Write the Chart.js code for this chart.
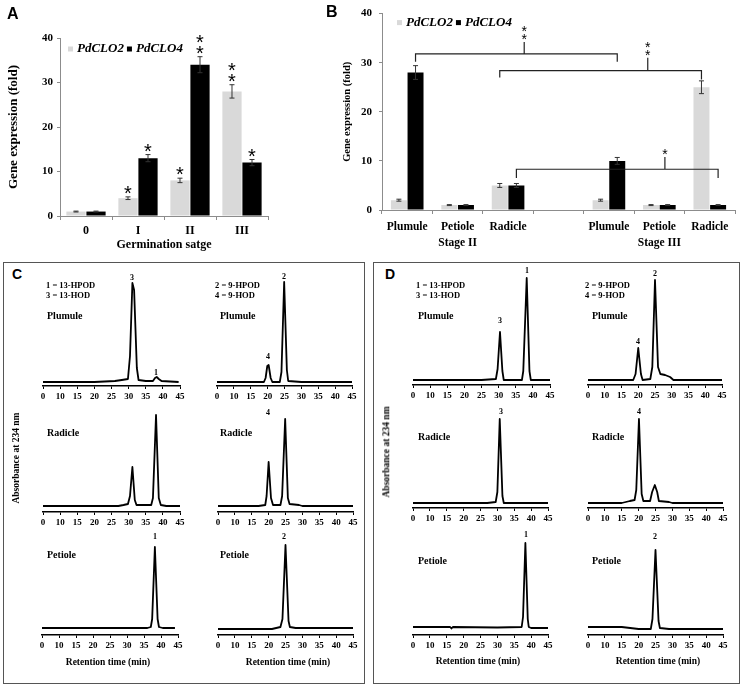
<!DOCTYPE html>
<html>
<head>
<meta charset="utf-8">
<script src="https://cdn.jsdelivr.net/npm/chart.js@4.4.0/dist/chart.umd.min.js"></script>
<style>
  body { margin: 0; background: #fff; width: 743px; height: 688px; position: relative; overflow: hidden; }
  canvas { position: absolute; }
  .t { position: absolute; font-family: "Liberation Serif", "Times New Roman", serif; font-weight: bold; white-space: nowrap; line-height: 1; color: #000; }
  .letter { font-family: "Liberation Sans", Arial, sans-serif; }
  .box { position: absolute; border: 1.5px solid #555; box-sizing: border-box; }
</style>
</head>
<body>
<div class="box" style="left:3px;top:262px;width:362px;height:422px"></div>
<div class="box" style="left:373px;top:262px;width:367px;height:422px"></div>
<canvas id="chartA" width="275" height="255" style="left:0;top:0"></canvas>
<canvas id="chartB" width="413" height="255" style="left:330px;top:0"></canvas>
<script>
// Panel A: expression over germination stages
var A_STAGES = ['0', 'I', 'II', 'III'];
var A_CLO2 = [1, 4, 8, 28];
var A_CLO2_ERR = [0.1, 0.3, 0.5, 1.5];
var A_CLO2_SIG = ['', '*', '*', '**'];
var A_CLO4 = [1, 13, 34, 12];
var A_CLO4_ERR = [0.1, 0.8, 1.8, 0.7];
var A_CLO4_SIG = ['', '*', '**', '*'];

// Panel B: expression by tissue, stage II and stage III
var B_TISSUES = ['Plumule', ['Petiole', 'Stage II'], 'Radicle', '', 'Plumule', ['Petiole', 'Stage III'], 'Radicle'];
var B_CLO2 = [2, 1, 5, null, 2, 1, 25];
var B_CLO2_ERR = [0.2, 0.1, 0.4, null, 0.2, 0.1, 1.3];
var B_CLO4 = [28, 1, 5, null, 10, 1, 1];
var B_CLO4_ERR = [1.4, 0.1, 0.4, null, 0.7, 0.1, 0.1];
// brackets: ends are [category, series], stem is a category position
var B_BRACKETS = [
  { left: [0, 1], right: [4, 1], y: 31.8, dropL: 30.2, dropR: 30.2, stem: 2.32, top: 34.2, sig: '**' },
  { left: [2, 0], right: [6, 0], y: 28.4, dropL: 27.0, dropR: 26.6, stem: 4.77, top: 31.0, sig: '**' },
  { left: [2, 1], right: [6, 1], y: 8.3, dropL: 6.5, dropR: 6.5, stem: 5.11, top: 10.8, sig: '*' }
];

// Panels C/D: HPLC traces, [retention time, absorbance]
var RT_TICKS = ['0', '10', '15', '20', '25', '30', '35', '40', '45'];
var C_PLUMULE_13 = [[5,4],[20,4],[26,5],[28,6],[29.8,7],[30.4,30],[31.1,103],[31.6,96],[32.4,18],[32.9,6],[35,5],[37.1,5],[37.7,8],[38.2,9],[38.8,7],[39.6,5],[44.6,4]];
var C_PLUMULE_9 = [[5,4],[18.9,4],[19.4,8],[19.9,20],[20.3,21],[20.9,8],[21.4,4],[23.6,4],[24.1,14],[24.9,104],[25.7,16],[26.1,5],[30,4],[45,4]];
var C_RADICLE_13 = [[5,6],[27,6],[28.5,7],[29.8,8],[30.4,16],[31.1,45],[31.8,12],[32.3,7],[36.6,7],[37.1,14],[38,97],[38.8,14],[39.4,7],[41,6],[45,6]];
var C_RADICLE_9 = [[5,6],[17,6],[19,7],[19.4,16],[20,50],[20.7,14],[21.3,7],[23.5,7],[24,16],[24.9,93],[25.7,14],[26.2,8],[29,7],[30,6],[45,6]];
var C_PETIOLE_13 = [[5,7],[36,7],[37,8],[37.4,16],[38.2,88],[39,16],[39.4,8],[40.5,7],[44.1,7]];
var C_PETIOLE_9 = [[5,6],[21,6],[23.5,8],[24.1,16],[25,90],[25.9,14],[26.3,8],[28,7],[45,7]];
var D_PLUMULE_13 = [[5,5],[25,5],[29.2,6],[29.7,16],[30.4,53],[31.1,14],[31.5,5],[36.8,5],[37.2,14],[38.2,107],[39,14],[39.4,5],[45,5]];
var D_PLUMULE_9 = [[5,5],[18.5,5],[19.2,11],[20,37],[20.8,11],[21.3,5],[23.6,6],[24.2,18],[25,105],[25.9,18],[26.6,11],[28,10],[29.5,8],[30.5,5],[45,5]];
var D_RADICLE_13 = [[5,5],[27,5],[29.5,6],[30,16],[30.7,89],[31.5,12],[31.9,5],[45,5]];
var D_RADICLE_9 = [[5,5],[15,5],[17.4,7],[18.8,8],[19.3,18],[20.1,89],[20.9,14],[21.4,7],[23.4,7],[24,16],[24.8,23],[25.5,16],[26,7],[29,6],[30,5],[45,5]];
var D_PETIOLE_13 = [[5,8],[16,8],[16.4,6.5],[16.8,8],[30,7.5],[37.2,8],[37.6,18],[38.3,92],[39,16],[39.3,8],[40,7],[45,7]];
var D_PETIOLE_9 = [[5,8],[15,8],[17.5,7],[20,6],[23.6,6],[24.1,16],[25,85],[25.9,14],[26.3,7],[29,6],[45,6]];

var SERIF = '"Liberation Serif", "Times New Roman", serif';
var SANS = '"Liberation Sans", Arial, sans-serif';
var GRAY = '#d9d9d9';
var AXIS = '#8c8c8c';

Chart.defaults.animation = false;
Chart.defaults.font.family = SERIF;
Chart.defaults.color = '#000';

function drawStars(ctx, s, x, y, size, step) {
  if (!s) return;
  ctx.font = size + 'px ' + SANS;
  ctx.fillStyle = '#000';
  ctx.textAlign = 'center';
  ctx.textBaseline = 'alphabetic';
  for (var k = 0; k < s.length; k++) {
    ctx.fillText('*', x, y - k * step + 0.56 * size);
  }
}

// error bars, significance stars, brackets and the inline legend
var barExtras = {
  id: 'barExtras',
  afterDatasetsDraw: function (chart, args, opts) {
    var ctx = chart.ctx, ys = chart.scales.y, xs = chart.scales.x;
    ctx.save();
    chart.data.datasets.forEach(function (ds, di) {
      chart.getDatasetMeta(di).data.forEach(function (bar, i) {
        var v = ds.data[i];
        if (v == null) return;
        var e = ds.errors[i] || 0;
        var top = ys.getPixelForValue(v + e), bot = ys.getPixelForValue(v - e);
        ctx.strokeStyle = '#333';
        ctx.lineWidth = 1;
        ctx.beginPath();
        ctx.moveTo(bar.x, top); ctx.lineTo(bar.x, bot);
        ctx.moveTo(bar.x - opts.cap, top); ctx.lineTo(bar.x + opts.cap, top);
        ctx.moveTo(bar.x - opts.cap, bot); ctx.lineTo(bar.x + opts.cap, bot);
        ctx.stroke();
        if (ds.sig) drawStars(ctx, ds.sig[i], bar.x, top - opts.starGap, opts.starSize, opts.starStep);
      });
    });

    (opts.brackets || []).forEach(function (b) {
      var xl = chart.getDatasetMeta(b.left[1]).data[b.left[0]].x;
      var xr = chart.getDatasetMeta(b.right[1]).data[b.right[0]].x;
      var xm = xs.getPixelForValue(b.stem);
      var yb = ys.getPixelForValue(b.y);
      var yt = ys.getPixelForValue(b.top);
      ctx.strokeStyle = '#222';
      ctx.lineWidth = 1.2;
      ctx.beginPath();
      ctx.moveTo(xl, ys.getPixelForValue(b.dropL)); ctx.lineTo(xl, yb);
      ctx.lineTo(xr, yb); ctx.lineTo(xr, ys.getPixelForValue(b.dropR));
      ctx.moveTo(xm, yb); ctx.lineTo(xm, yt);
      ctx.stroke();
      drawStars(ctx, b.sig, xm, yt - opts.bracketGap, opts.bracketStar, opts.bracketStep);
    });

    var lg = opts.legend;
    var x = chart.chartArea.left + lg.dx, y = chart.chartArea.top + lg.dy;
    ctx.font = 'italic bold ' + lg.size + 'px ' + SERIF;
    ctx.textAlign = 'left';
    ctx.textBaseline = 'middle';
    chart.data.datasets.forEach(function (ds) {
      ctx.fillStyle = ds.backgroundColor;
      ctx.fillRect(x, y - lg.box / 2, lg.box, lg.box);
      x += lg.box + 4;
      ctx.fillStyle = '#000';
      ctx.fillText(ds.label, x, y);
      x += ctx.measureText(ds.label).width + 3;
    });
    ctx.restore();
  }
};

function barChart(id, cfg) {
  return new Chart(document.getElementById(id), {
    type: 'bar',
    data: {
      labels: cfg.labels,
      datasets: [
        { label: 'PdCLO2', data: cfg.clo2, errors: cfg.clo2Err, sig: cfg.clo2Sig, backgroundColor: GRAY,
          categoryPercentage: cfg.catPct, barPercentage: 0.96 },
        { label: 'PdCLO4', data: cfg.clo4, errors: cfg.clo4Err, sig: cfg.clo4Sig, backgroundColor: '#000',
          categoryPercentage: cfg.catPct, barPercentage: 0.96 }
      ]
    },
    options: {
      responsive: false,
      layout: { padding: cfg.padding },
      plugins: {
        legend: { display: false },
        tooltip: { enabled: false },
        barExtras: cfg.extras
      },
      scales: {
        x: {
          grid: { display: true, drawOnChartArea: false, tickLength: 4, color: AXIS },
          border: { color: AXIS },
          ticks: { font: { size: cfg.xFont, weight: 'bold', lineHeight: 1.4 }, padding: cfg.xPad, maxRotation: 0, autoSkip: false },
          title: cfg.xTitle,
          afterFit: function (s) { s.height = cfg.xHeight; }
        },
        y: {
          min: 0, max: 40,
          grid: { display: true, drawOnChartArea: false, tickLength: 3, color: AXIS },
          border: { color: AXIS },
          ticks: { stepSize: 10, font: { size: cfg.yFont, weight: 'bold' }, padding: cfg.yPad },
          title: { display: true, text: 'Gene expression (fold)', font: { size: cfg.yTitleFont, weight: 'bold' }, padding: { top: cfg.yTitlePad } },
          afterFit: function (s) { s.width = cfg.yWidth; }
        }
      }
    },
    plugins: [barExtras]
  });
}

barChart('chartA', {
  labels: A_STAGES,
  clo2: A_CLO2, clo2Err: A_CLO2_ERR, clo2Sig: A_CLO2_SIG,
  clo4: A_CLO4, clo4Err: A_CLO4_ERR, clo4Sig: A_CLO4_SIG,
  catPct: 0.77,
  padding: { left: 0, right: 7, top: 38, bottom: 0 },
  xFont: 12, xPad: 3, xHeight: 39,
  xTitle: { display: true, text: 'Germination satge', font: { size: 12, weight: 'bold' }, padding: { bottom: 3 } },
  yFont: 11, yPad: 4, yWidth: 60, yTitleFont: 13, yTitlePad: 6,
  extras: { cap: 2.5, starGap: 8, starStep: 11, starSize: 20,
            legend: { dx: 8, dy: 11, size: 13, box: 5 } }
});

barChart('chartB', {
  labels: B_TISSUES,
  clo2: B_CLO2, clo2Err: B_CLO2_ERR,
  clo4: B_CLO4, clo4Err: B_CLO4_ERR,
  catPct: 0.66,
  padding: { left: 0, right: 8, top: 7, bottom: 0 },
  xFont: 11.5, xPad: 5, xHeight: 45,
  xTitle: { display: false },
  yFont: 11, yPad: 7, yWidth: 52, yTitleFont: 10.5, yTitlePad: 11,
  extras: { cap: 2.5, starGap: 8, starStep: 11, starSize: 20,
            brackets: B_BRACKETS, bracketGap: 6, bracketStep: 8, bracketStar: 14,
            legend: { dx: 15, dy: 9, size: 13, box: 5 } }
});

// chromatograms: [data, px of "0" tick, px of "45" tick, px of axis line]
var traces = [
  [C_PLUMULE_13, 43, 180, 386], [C_PLUMULE_9, 217, 352, 386],
  [C_RADICLE_13, 43, 180, 512], [C_RADICLE_9, 218, 353, 512],
  [C_PETIOLE_13, 42, 178, 635], [C_PETIOLE_9, 218, 353, 635],
  [D_PLUMULE_13, 413, 550, 385], [D_PLUMULE_9, 588, 722, 385],
  [D_RADICLE_13, 413, 548, 508], [D_RADICLE_9, 588, 723, 508],
  [D_PETIOLE_13, 413, 548, 635], [D_PETIOLE_9, 588, 723, 635]
];

traces.forEach(function (tr) {
  var cv = document.createElement('canvas');
  cv.width = tr[2] - tr[1] + 22;
  cv.height = 135;
  cv.style.left = (tr[1] - 10) + 'px';
  cv.style.top = (tr[3] - 115) + 'px';
  document.body.appendChild(cv);
  new Chart(cv, {
    type: 'line',
    data: { datasets: [{ data: tr[0], borderColor: '#000', borderWidth: 1.8, pointRadius: 0, tension: 0, borderJoinStyle: 'round' }] },
    options: {
      responsive: false,
      layout: { padding: { left: 10, right: 12, top: 5, bottom: 0 } },
      plugins: { legend: { display: false }, tooltip: { enabled: false } },
      scales: {
        x: {
          type: 'linear', min: 5, max: 45,
          grid: { display: true, drawOnChartArea: false, tickLength: 3, color: '#000' },
          border: { color: '#000', width: 1.5 },
          ticks: {
            stepSize: 5, autoSkip: false, maxRotation: 0, padding: 2,
            font: { size: 9, weight: 'bold' },
            callback: function (v) { return RT_TICKS[Math.round((v - 5) / 5)]; }
          },
          afterFit: function (s) { s.height = 20; }
        },
        y: { display: false, min: 0, max: 110 }
      }
    }
  });
});

function put(text, x, y, size, mode, cls) {
  var d = document.createElement('div');
  d.className = 't' + (cls ? ' ' + cls : '');
  d.textContent = text;
  d.style.fontSize = size + 'px';
  d.style.left = x + 'px';
  d.style.top = y + 'px';
  var tf = 'translateY(-50%)';
  if (mode === 'c') tf = 'translate(-50%,-50%)';
  if (mode === 'v') tf = 'translate(-50%,-50%) rotate(-90deg)';
  d.style.transform = tf;
  document.body.appendChild(d);
}

put('A', 7, 14, 16, '', 'letter');
put('B', 326, 12, 16, '', 'letter');
put('C', 12, 274, 14, '', 'letter');
put('D', 385, 274, 14, '', 'letter');

// panel C labels
put('1 = 13-HPOD', 46, 285, 8.5); put('3 = 13-HOD', 46, 295, 8.5);
put('2 = 9-HPOD', 215, 285, 8.5); put('4 = 9-HOD', 215, 295, 8.5);
put('Plumule', 47, 316, 10); put('Plumule', 220, 316, 10);
put('3', 132, 278, 8, 'c'); put('1', 156, 373, 8, 'c');
put('2', 284, 277, 8, 'c'); put('4', 268, 357, 8, 'c');
put('Radicle', 47, 433, 10); put('Radicle', 220, 433, 10);
put('4', 268, 413, 8, 'c');
put('Petiole', 47, 555, 10); put('Petiole', 220, 555, 10);
put('1', 155, 537, 8, 'c'); put('2', 284, 537, 8, 'c');
put('Retention time (min)', 108, 663, 9.5, 'c'); put('Retention time (min)', 288, 663, 9.5, 'c');
put('Absorbance at 234 nm', 17, 458, 9.5, 'v');

// panel D labels
put('1 = 13-HPOD', 416, 285, 8.5); put('3 = 13-HOD', 416, 295, 8.5);
put('2 = 9-HPOD', 585, 285, 8.5); put('4 = 9-HOD', 585, 295, 8.5);
put('Plumule', 418, 316, 10); put('Plumule', 592, 316, 10);
put('3', 500, 321, 8, 'c'); put('1', 527, 271, 8, 'c');
put('4', 638, 342, 8, 'c'); put('2', 655, 274, 8, 'c');
put('Radicle', 418, 437, 10); put('Radicle', 592, 437, 10);
put('3', 501, 412, 8, 'c'); put('4', 639, 412, 8, 'c');
put('Petiole', 418, 561, 10); put('Petiole', 592, 561, 10);
put('1', 526, 535, 8, 'c'); put('2', 655, 537, 8, 'c');
put('Retention time (min)', 478, 662, 9.5, 'c'); put('Retention time (min)', 658, 662, 9.5, 'c');
put('Absorbance at 234 nm', 387, 452, 9.5, 'v');
</script>
</body>
</html>
